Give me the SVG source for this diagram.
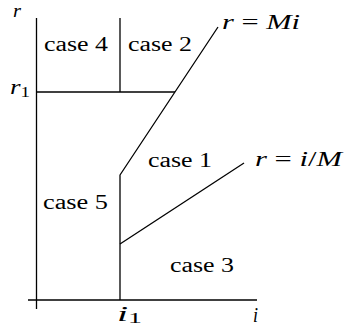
<svg xmlns="http://www.w3.org/2000/svg" width="344" height="328" viewBox="0 0 344 328">
<style>
.ln{stroke:#000;stroke-width:1.3;fill:none;stroke-linejoin:round}
.t{font-family:'Liberation Serif','Times New Roman',serif;font-size:20px;fill:#000}
.m{font-style:italic}
</style>
<rect width="344" height="328" fill="#fff"/>
<g id="connectors">
<line class="ln" x1="36.5" y1="18" x2="36.5" y2="309"/>
<line class="ln" x1="28" y1="300" x2="257" y2="300"/>
<line class="ln" x1="36.5" y1="92" x2="175" y2="92"/>
<line class="ln" x1="120" y1="18" x2="120" y2="92"/>
<polyline class="ln" points="120,300 120,175 218,27"/>
<line class="ln" x1="120" y1="244" x2="244" y2="163"/>
</g>
<g id="labels">
<text id="axis-r" class="t m" x="13" y="17" font-size="18" style="font-size:18px" textLength="8" lengthAdjust="spacingAndGlyphs">r</text>
<text id="axis-i" class="t m" x="253" y="322" textLength="5" lengthAdjust="spacingAndGlyphs">i</text>
<text id="r1" class="t" x="10" y="94" textLength="20" lengthAdjust="spacingAndGlyphs"><tspan class="m">r</tspan><tspan font-size="14" dy="3">1</tspan></text>
<text id="i1" class="t" x="117" y="321" textLength="25" lengthAdjust="spacingAndGlyphs"><tspan class="m">i</tspan><tspan font-size="14" dy="2">1</tspan></text>
<text id="eq-mi" class="t" x="222" y="29" textLength="78" lengthAdjust="spacingAndGlyphs"><tspan class="m">r</tspan> = <tspan class="m">Mi</tspan></text>
<text id="eq-im" class="t" x="255" y="166" textLength="87" lengthAdjust="spacingAndGlyphs"><tspan class="m">r</tspan> = <tspan class="m">i</tspan>/<tspan class="m">M</tspan></text>
</g>
<g id="case4"><text class="t" x="44" y="51" textLength="64" lengthAdjust="spacingAndGlyphs">case 4</text></g>
<g id="case2"><text class="t" x="128" y="51" textLength="64" lengthAdjust="spacingAndGlyphs">case 2</text></g>
<g id="case1"><text class="t" x="148" y="167" textLength="64" lengthAdjust="spacingAndGlyphs">case 1</text></g>
<g id="case5"><text class="t" x="43" y="209" textLength="65" lengthAdjust="spacingAndGlyphs">case 5</text></g>
<g id="case3"><text class="t" x="170" y="272" textLength="64" lengthAdjust="spacingAndGlyphs">case 3</text></g>
</svg>
